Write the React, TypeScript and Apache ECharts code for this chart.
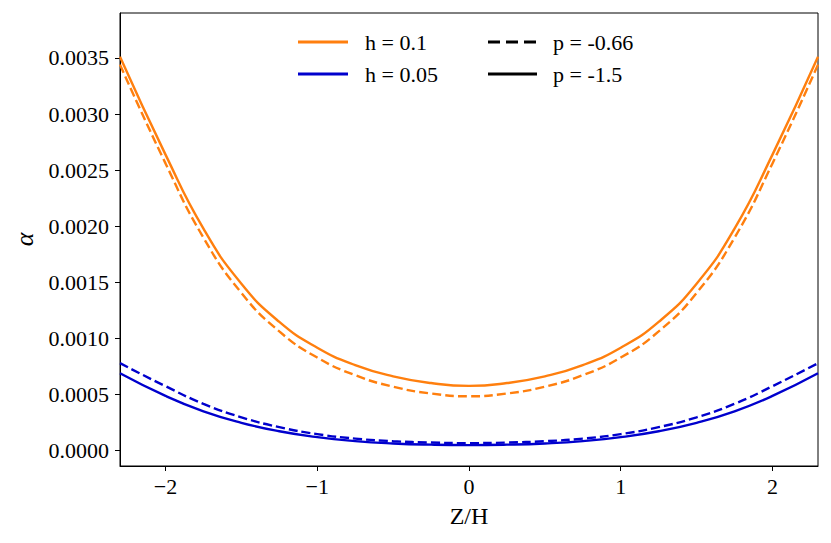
import React, { useEffect, useRef } from "react";
import * as echarts from "echarts";

// Z/H positions
const zValues = [
  -2.3, -2.0, -1.75, -1.5, -1.25, -1.0, -0.75, -0.5, -0.25, 0,
  0.25, 0.5, 0.75, 1.0, 1.25, 1.5, 1.75, 2.0, 2.3,
];
// h = 0.1, p = -1.5 (solid orange)
const h01pm15 = [
  0.00351, 0.002638, 0.001978, 0.001488, 0.001148, 0.000918, 0.000763, 0.000663, 0.000603, 0.000578,
  0.000603, 0.000663, 0.000763, 0.000918, 0.001148, 0.001488, 0.001978, 0.002638, 0.00351,
];
// h = 0.1, p = -0.66 (dashed orange)
const h01pm066 = [
  0.00344, 0.00256, 0.001898, 0.001406, 0.001063, 0.00083, 0.000673, 0.000571, 0.00051, 0.000485,
  0.00051, 0.000571, 0.000673, 0.00083, 0.001063, 0.001406, 0.001898, 0.00256, 0.00344,
];
// h = 0.05, p = -1.5 (solid blue)
const h005pm15 = [
  0.00069, 0.000488, 0.000351, 0.000249, 0.000174, 0.000121, 0.000086, 0.000065, 0.000054, 0.00005,
  0.000054, 0.000065, 0.000086, 0.000121, 0.000174, 0.000249, 0.000351, 0.000488, 0.00069,
];
// h = 0.05, p = -0.66 (dashed blue)
const h005pm066 = [
  0.00078, 0.000575, 0.000418, 0.000298, 0.00021, 0.000148, 0.000108, 0.000085, 0.000073, 0.000068,
  0.000073, 0.000085, 0.000108, 0.000148, 0.00021, 0.000298, 0.000418, 0.000575, 0.00078,
];
const xTicks = [-2, -1, 0, 1, 2];
const yTicks = [0, 0.0005, 0.001, 0.0015, 0.002, 0.0025, 0.003, 0.0035];
const legendRows = [
  { label: "h = 0.1", color: "#ff7f0e", dashed: false },
  { label: "h = 0.05", color: "#0000cd", dashed: false },
];
const legendRows2 = [
  { label: "p = -0.66", color: "#000", dashed: true },
  { label: "p = -1.5", color: "#000", dashed: false },
];

const ORANGE = "#ff7f0e";
const BLUE = "#0000cd";
const FONT = "Liberation Serif";

const pairs = (ys: number[]) => zValues.map((z, i) => [z, ys[i]]);

export default function App() {
  const ref = useRef<HTMLDivElement>(null);
  useEffect(() => {
    if (!ref.current) return;
    const chart = echarts.init(ref.current, undefined, { renderer: "svg" });
    const mkSeries = (name: string, ys: number[], color: string, dashed: boolean) => ({
      name,
      type: "line",
      data: pairs(ys),
      smooth: 0.5,
      showSymbol: false,
      symbol: "none",
      lineStyle: { color, width: 2.4, type: dashed ? [9, 4] : "solid" },
      z: 3,
    });
    const legendGraphics: any[] = [];
    const rowsY = [42, 74];
    legendRows.forEach((r, i) => {
      legendGraphics.push({
        type: "line",
        shape: { x1: 298, y1: rowsY[i], x2: 348, y2: rowsY[i] },
        style: { stroke: r.color, lineWidth: 2.8 },
      });
      legendGraphics.push({
        type: "text",
        x: 365,
        y: rowsY[i],
        style: { text: r.label, font: `22px "${FONT}"`, fill: "#000", verticalAlign: "middle" },
      });
    });
    legendRows2.forEach((r, i) => {
      legendGraphics.push({
        type: "line",
        shape: { x1: 488, y1: rowsY[i], x2: 537, y2: rowsY[i] },
        style: { stroke: r.color, lineWidth: 2.8, lineDash: r.dashed ? [12, 6] : null },
      });
      legendGraphics.push({
        type: "text",
        x: 553,
        y: rowsY[i],
        style: { text: r.label, font: `22px "${FONT}"`, fill: "#000", verticalAlign: "middle" },
      });
    });
    chart.setOption({
      animation: false,
      backgroundColor: "#fff",
      textStyle: { fontFamily: FONT, color: "#000" },
      grid: {
        left: 120,
        top: 13,
        right: 13,
        bottom: 77,
        show: true,
        borderColor: "#000",
        borderWidth: 1,
        backgroundColor: "transparent",
      },
      xAxis: {
        type: "value",
        min: -2.3,
        max: 2.3,
        name: "Z/H",
        nameLocation: "middle",
        nameGap: 38,
        nameTextStyle: { fontFamily: FONT, fontSize: 24, color: "#000" },
        axisLine: { show: true, onZero: false, lineStyle: { color: "#000", width: 1 } },
        axisTick: { show: true, length: 5, lineStyle: { color: "#000" }, customValues: xTicks },
        axisLabel: {
          customValues: xTicks,
          margin: 9,
          fontFamily: FONT,
          fontSize: 22,
          color: "#000",
          formatter: (v: number) => (v < 0 ? "\u2212" + Math.abs(v) : String(v)),
        },
        splitLine: { show: false },
      },
      yAxis: {
        type: "value",
        min: -0.000136,
        max: 0.0039,
        name: "α",
        nameLocation: "middle",
        nameGap: 77,
        nameRotate: 90,
        nameTextStyle: { fontFamily: FONT, fontSize: 26, fontStyle: "italic", color: "#000" },
        axisLine: { show: true, onZero: false, lineStyle: { color: "#000", width: 1 } },
        axisTick: { show: true, length: 5, lineStyle: { color: "#000" }, customValues: yTicks },
        axisLabel: {
          customValues: yTicks,
          margin: 11,
          fontFamily: FONT,
          fontSize: 22,
          color: "#000",
          formatter: (v: number) => v.toFixed(4),
        },
        splitLine: { show: false },
      },
      series: [
        mkSeries("h=0.1 p=-1.5", h01pm15, ORANGE, false),
        mkSeries("h=0.1 p=-0.66", h01pm066, ORANGE, true),
        mkSeries("h=0.05 p=-1.5", h005pm15, BLUE, false),
        mkSeries("h=0.05 p=-0.66", h005pm066, BLUE, true),
      ],
      graphic: legendGraphics,
    });
    return () => chart.dispose();
  }, []);
  return (
    <div
      ref={ref}
      style={{ position: "absolute", left: 0, top: 0, width: 831, height: 543 }}
    />
  );
}
